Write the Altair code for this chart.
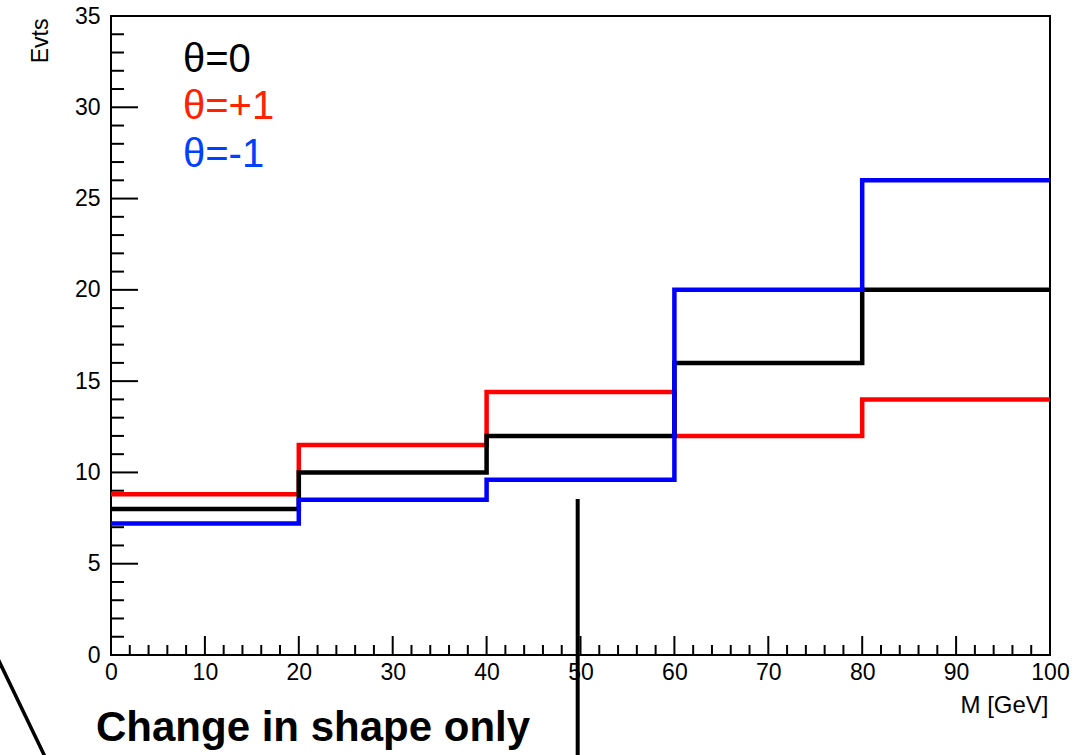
import altair as alt
import pandas as pd

# ---- data ----
bin_edges = [0, 20, 40, 60, 80, 100]
theta_0 = [8.0, 10.0, 12.0, 16.0, 20.0]
theta_p1 = [8.8, 11.5, 14.4, 12.0, 14.0]
theta_m1 = [7.2, 8.5, 9.6, 20.0, 26.0]
series_names = ["θ=0", "θ=+1", "θ=-1"]
line_colors = ["#000000", "#ff0000", "#0000ff"]
text_colors = ["#000000", "#ff2200", "#0040ff"]

x_major = [0, 10, 20, 30, 40, 50, 60, 70, 80, 90, 100]
x_minor = [2, 4, 6, 8, 12, 14, 16, 18, 22, 24, 26, 28, 32, 34, 36, 38,
           42, 44, 46, 48, 52, 54, 56, 58, 62, 64, 66, 68, 72, 74, 76, 78,
           82, 84, 86, 88, 92, 94, 96, 98]
y_major = [0, 5, 10, 15, 20, 25, 30, 35]
y_minor = [1, 2, 3, 4, 6, 7, 8, 9, 11, 12, 13, 14, 16, 17, 18, 19,
           21, 22, 23, 24, 26, 27, 28, 29, 31, 32, 33, 34]

marker_x = [49.7]
marker_top = [8.55]
caption = "Change in shape only"

W, H = 939, 639
FONT = "Liberation Sans"


def step_table(values):
    xs = bin_edges
    ys = list(values) + [values[-1]]
    return pd.DataFrame({"m": xs, "evts": ys})


xscale = alt.Scale(domain=[0, 100], nice=False, zero=False)
yscale = alt.Scale(domain=[0, 35], nice=False, zero=False)

x_axis = alt.Axis(values=x_major, labelFontSize=23, labelFont=FONT, labelColor="black",
                  ticks=False, domain=False, grid=False, labelPadding=6,
                  labelFlush=False, labelOverlap=False,
                  title="M [GeV]", titleFont=FONT, titleFontSize=24, titleFontWeight="normal",
                  titleColor="black", titleAnchor="end", titleAlign="right",
                  titleX=W - 2, titleY=57, titleBaseline="alphabetic")
y_axis = alt.Axis(values=y_major, labelFontSize=23, labelFont=FONT, labelColor="black",
                  ticks=False, domain=False, grid=False, labelPadding=11,
                  labelFlush=False, labelOverlap=False,
                  title="Evts", titleFont=FONT, titleFontSize=23, titleFontWeight="normal",
                  titleColor="black", titleAngle=270, titleAlign="right",
                  titleBaseline="bottom", titleX=-59, titleY=2)


def X(field):
    return alt.X(field, scale=xscale, axis=x_axis, title="M [GeV]")


def Y(field):
    return alt.Y(field, scale=yscale, axis=y_axis, title="Evts")


layers = []

# histogram layers: red, black, blue (blue on top)
order = [(theta_p1, 1), (theta_0, 0), (theta_m1, 2)]
for vals, idx in order:
    df = step_table(vals)
    layers.append(
        alt.Chart(df).mark_line(interpolate="step-after", color=line_colors[idx],
                                strokeWidth=4.5, strokeJoin="miter", strokeCap="butt")
        .encode(x=X("m:Q"), y=Y("evts:Q"))
    )

# inward ticks
layers.append(alt.Chart(pd.DataFrame({"v": y_major})).mark_rule(color="black", strokeWidth=2)
              .encode(y=Y("v:Q"), x=alt.value(0), x2=alt.value(27)))
layers.append(alt.Chart(pd.DataFrame({"v": y_minor})).mark_rule(color="black", strokeWidth=2)
              .encode(y=Y("v:Q"), x=alt.value(0), x2=alt.value(13)))
layers.append(alt.Chart(pd.DataFrame({"v": x_major})).mark_rule(color="black", strokeWidth=2)
              .encode(x=X("v:Q"), y=alt.value(H), y2=alt.value(H - 19)))
layers.append(alt.Chart(pd.DataFrame({"v": x_minor})).mark_rule(color="black", strokeWidth=2)
              .encode(x=X("v:Q"), y=alt.value(H), y2=alt.value(H - 10)))

# legend texts
legend_y = [56, 103, 151]
for i, name in enumerate(series_names):
    layers.append(
        alt.Chart(pd.DataFrame({"t": [name]})).mark_text(
            font=FONT, fontSize=40, color=text_colors[i], align="left", baseline="alphabetic")
        .encode(text="t:N", x=alt.value(72), y=alt.value(legend_y[i]))
    )

# annotation: vertical marker line
layers.append(
    alt.Chart(pd.DataFrame({"mx": marker_x, "my": marker_top})).mark_rule(color="black", strokeWidth=4)
    .encode(x=X("mx:Q"), y=Y("my:Q"), y2=alt.value(H + 110))
)
# annotation: diagonal line in lower-left corner
layers.append(
    alt.Chart(pd.DataFrame({"a": [0]})).mark_rule(color="black", strokeWidth=3.5)
    .encode(x=alt.value(-113), y=alt.value(643), x2=alt.value(-63), y2=alt.value(747))
)
# caption
layers.append(
    alt.Chart(pd.DataFrame({"t": [caption]})).mark_text(
        font=FONT, fontSize=42, fontWeight="bold", color="black", align="left", baseline="alphabetic")
    .encode(text="t:N", x=alt.value(-15), y=alt.value(725))
)

chart = alt.layer(*layers).properties(
    width=W, height=H,
    autosize="none",
    padding={"left": 111, "top": 16, "right": 28, "bottom": 100},
    background="white",
).configure_view(stroke="black", strokeWidth=2)

chart.save("out.html", embed_options={"renderer": "svg", "actions": False})
